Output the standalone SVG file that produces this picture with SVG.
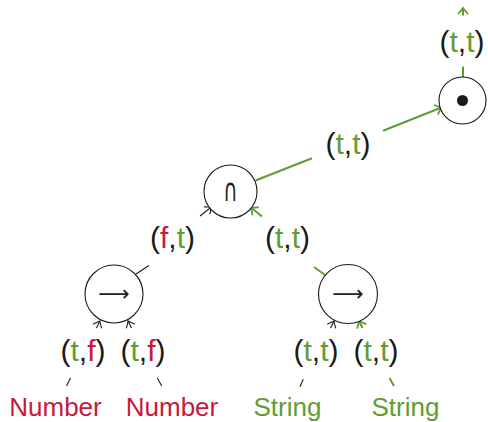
<svg xmlns="http://www.w3.org/2000/svg" width="488" height="422" viewBox="0 0 488 422">
<style>
text{font-family:"Liberation Sans",Arial,sans-serif;}
.lbl{font-size:30px;text-anchor:middle;fill:#1a1a1a;}
.leaf{font-size:26px;text-anchor:middle;}
.g{fill:#5f9c35;}
.r{fill:#c8193c;}
.node{fill:#fff;stroke:#1a1a1a;stroke-width:1.1;}
.sym{font-family:"DejaVu Sans",sans-serif;text-anchor:middle;fill:#222;}
.eb{stroke:#1a1a1a;stroke-width:1.1;fill:none;}
.eg{stroke:#5f9c35;stroke-width:2;fill:none;}
</style>
<defs>
<marker id="ab" viewBox="-8 -6 10 12" markerWidth="10" markerHeight="12" refX="0" refY="0" orient="auto" markerUnits="userSpaceOnUse">
<path d="M-5.5,-4.5 Q-1.8,-1.2 0,0 Q-1.8,1.2 -5.5,4.5" fill="none" stroke="#1a1a1a" stroke-width="1.1" stroke-linecap="round"/>
</marker>
<marker id="ag" viewBox="-8 -6 10 12" markerWidth="10" markerHeight="12" refX="0" refY="0" orient="auto" markerUnits="userSpaceOnUse">
<path d="M-5.5,-4.6 Q-1.8,-1.2 0,0 Q-1.8,1.2 -5.5,4.6" fill="none" stroke="#5f9c35" stroke-width="1.8" stroke-linecap="round"/>
</marker>
</defs>

<g id="connectors">
<line class="eb" x1="66.5" y1="386" x2="70.5" y2="378"/>
<line class="eb" x1="96.5" y1="328" x2="99.8" y2="321" marker-end="url(#ab)"/>
<line class="eb" x1="161.7" y1="386" x2="157.3" y2="378"/>
<line class="eb" x1="131.5" y1="328" x2="128" y2="321" marker-end="url(#ab)"/>
<line class="eb" x1="300" y1="386.7" x2="303.3" y2="379.3"/>
<line class="eb" x1="330.5" y1="328" x2="334" y2="321" marker-end="url(#ab)"/>
<line class="eg" x1="394" y1="386" x2="389.5" y2="378"/>
<line class="eg" x1="362.5" y1="328" x2="359" y2="321" marker-end="url(#ag)"/>
<line class="eb" x1="136" y1="274" x2="149" y2="265.5"/>
<line class="eb" x1="200" y1="216" x2="211.5" y2="207" marker-end="url(#ab)"/>
<line class="eg" x1="314" y1="267" x2="325" y2="275"/>
<line class="eg" x1="262" y1="216.5" x2="251" y2="207.5" marker-end="url(#ag)"/>
<line class="eg" x1="255.5" y1="180.5" x2="312" y2="158.3"/>
<line class="eg" x1="383" y1="130.7" x2="441.5" y2="107.5" marker-end="url(#ag)"/>
<line class="eg" x1="463" y1="66.5" x2="463" y2="77"/>
<line class="eg" x1="463" y1="15.5" x2="463" y2="8" marker-end="url(#ag)"/>
</g>

<g id="edge-labels">
<text class="lbl" x="462" y="51.5">(<tspan class="g">t</tspan>,<tspan class="g">t</tspan>)</text>
<text class="lbl" x="348" y="153.5">(<tspan class="g">t</tspan>,<tspan class="g">t</tspan>)</text>
<text class="lbl" x="172.5" y="248">(<tspan class="r">f</tspan>,<tspan class="g">t</tspan>)</text>
<text class="lbl" x="287.5" y="248">(<tspan class="g">t</tspan>,<tspan class="g">t</tspan>)</text>
<text class="lbl" x="83" y="361">(<tspan class="g">t</tspan>,<tspan class="r">f</tspan>)</text>
<text class="lbl" x="143" y="361">(<tspan class="g">t</tspan>,<tspan class="r">f</tspan>)</text>
<text class="lbl" x="316" y="361">(<tspan class="g">t</tspan>,<tspan class="g">t</tspan>)</text>
<text class="lbl" x="376" y="361">(<tspan class="g">t</tspan>,<tspan class="g">t</tspan>)</text>
</g>

<g id="node-root">
<circle class="node" cx="462.5" cy="100.5" r="23.5"/>
<circle cx="462.5" cy="100.5" r="5.5" fill="#1a1a1a"/>
</g>
<g id="node-cap">
<circle class="node" cx="230.5" cy="191.5" r="26.5"/>
<text class="sym" x="0" y="0" font-size="32" fill="#555" transform="translate(230.5 201) scale(0.62 1)">∩</text>
</g>
<g id="node-arrow-left">
<circle class="node" cx="114" cy="294" r="29"/>
<text class="sym" x="114" y="300.5" font-size="22">⟶</text>
</g>
<g id="node-arrow-right">
<circle class="node" cx="348" cy="294" r="29.5"/>
<text class="sym" x="348" y="300.5" font-size="22">⟶</text>
</g>
<g id="node-number-1"><text class="leaf r" x="55.5" y="416">Number</text></g>
<g id="node-number-2"><text class="leaf r" x="172" y="416">Number</text></g>
<g id="node-string-1"><text class="leaf g" x="287.5" y="416">String</text></g>
<g id="node-string-2"><text class="leaf g" x="405.5" y="416">String</text></g>
</svg>
